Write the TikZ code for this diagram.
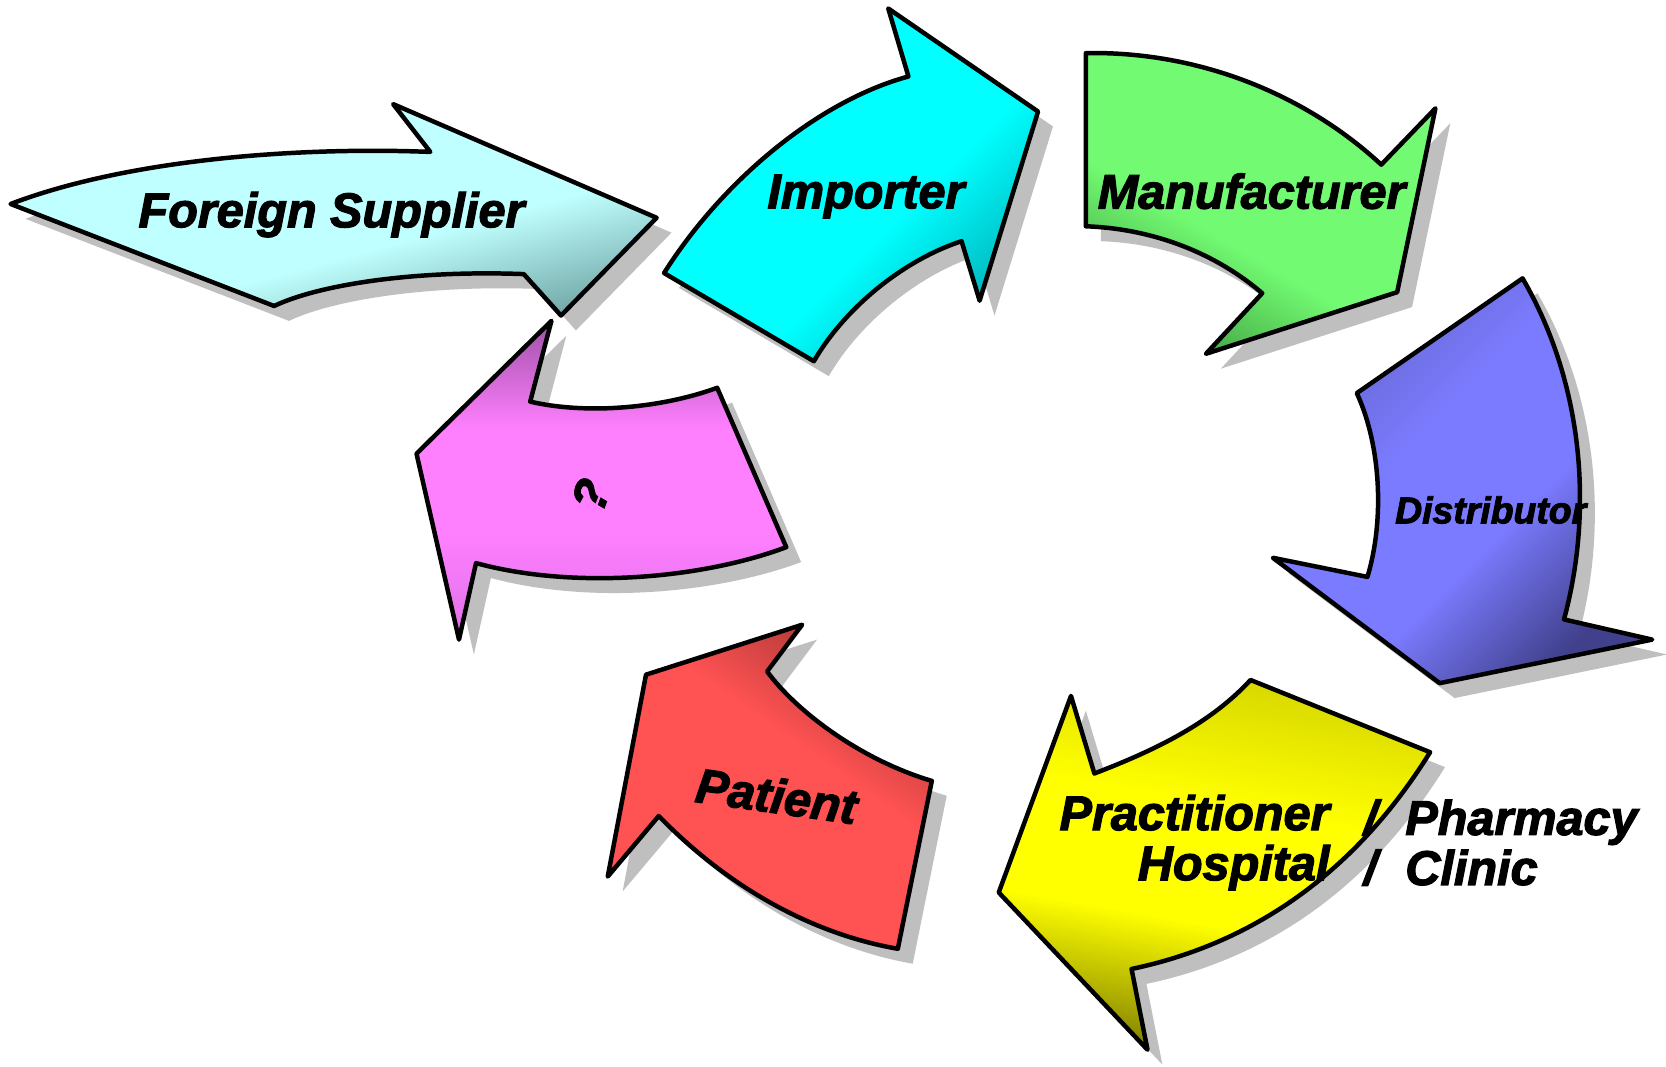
\documentclass[tikz,border=0pt]{standalone}
\usepackage{fontspec}
\newfontfamily\stepfont{Liberation Sans}[BoldItalicFeatures={FakeBold=2.5}]
\usepackage{tikz}
\usetikzlibrary{shadows}

\definecolor{supplierlight}{HTML}{C0FFFF}
\definecolor{supplierdark}{HTML}{78AEAE}
\definecolor{importerlight}{HTML}{00FFFF}
\definecolor{importerdark}{HTML}{00B4BC}
\definecolor{makerlight}{HTML}{72FA72}
\definecolor{makerdark}{HTML}{45A845}
\definecolor{distlight}{HTML}{7B7BFF}
\definecolor{disttop}{HTML}{6464CC}
\definecolor{distdark}{HTML}{40408C}
\definecolor{carelight}{HTML}{FFFF00}
\definecolor{caretop}{HTML}{D8D800}
\definecolor{caredark}{HTML}{858500}
\definecolor{patientlight}{HTML}{FF5252}
\definecolor{patientdark}{HTML}{B03838}
\definecolor{unknownlight}{HTML}{FF80FF}
\definecolor{unknowndark}{HTML}{A050A8}
\definecolor{unknownbot}{HTML}{E070E8}

% light plateau in the middle, darker only near the two ends
\pgfdeclareverticalshading[fadetop,fademid,fadebot]{stepfade}{100bp}{%
  color(0bp)=(fadebot); color(25bp)=(fadebot); color(42bp)=(fademid);
  color(58bp)=(fademid); color(75bp)=(fadetop); color(100bp)=(fadetop)}

\tikzset{
  flowarrow/.style={draw=black, line width=1.2pt, line join=round, shade,
    drop shadow={shadow xshift=1.4mm, shadow yshift=-1.4mm, fill=black!25, opacity=1}},
  fade/.style n args={3}{/utils/exec={\colorlet{fadetop}{#1}\colorlet{fademid}{#2}%
    \colorlet{fadebot}{#3}}, shading=stepfade},
  steptext/.style={font=\stepfont\bfseries\itshape\fontsize{13}{13.4}\selectfont, inner sep=0pt},
}

\begin{document}
\begin{tikzpicture}[x=0.01cm, y=-0.01cm]
  \path[fill=white] (0,0) rectangle (1568,1004);
  % ---- foreign supplier ----
  \path[flowarrow, fade={supplierlight}{supplierlight}{supplierdark}, shading angle=15]
    (10,192) .. controls (120,150) and (280,138) .. (405,143)
    -- (370,98) -- (618,205) -- (528,297) -- (493,258)
    .. controls (390,254) and (300,268) .. (258,288) -- cycle;
  % ---- importer ----
  \path[flowarrow, fade={importerlight}{importerlight}{importerdark}, shading angle=45]
    (625,257) .. controls (680,170) and (770,95) .. (855,72)
    -- (836,8) -- (977,105) -- (922,283) -- (905,227)
    .. controls (850,245) and (795,290) .. (766,340) -- cycle;
  % ---- manufacturer ----
  \path[flowarrow, fade={makerlight}{makerlight}{makerdark}, shading angle=-30]
    (1022,50) .. controls (1130,48) and (1230,90) .. (1300,155)
    -- (1351,102) -- (1315,275) -- (1135,333) -- (1188,276)
    .. controls (1140,235) and (1080,215) .. (1022,213) -- cycle;
  % ---- distributor ----
  \path[flowarrow, fade={disttop}{distlight}{distdark}, shading angle=45]
    (1433,262) -- (1277,370) .. controls (1300,420) and (1303,490) .. (1287,543)
    -- (1198,525) -- (1355,643) -- (1555,602) -- (1472,583)
    .. controls (1500,480) and (1490,360) .. (1433,262) -- cycle;
  % ---- practitioner / pharmacy ----
  \path[flowarrow, fade={caretop}{carelight}{caredark}, shading angle=-10]
    (1177,640) -- (1346,708) .. controls (1270,830) and (1170,890) .. (1065,912)
    -- (1080,988) -- (940,840) -- (1008,655) -- (1030,728)
    .. controls (1090,705) and (1140,680) .. (1177,640) -- cycle;
  % ---- patient ----
  \path[flowarrow, fade={patientdark}{patientlight}{patientlight}, shading angle=-35]
    (755,588) -- (608,635) -- (572,825) -- (620,768)
    .. controls (690,840) and (770,880) .. (845,893)
    -- (877,735) .. controls (810,715) and (750,670) .. (722,632) -- cycle;
  % ---- unknown step ----
  \path[flowarrow, fade={unknowndark}{unknownlight}{unknownbot}, shading angle=0]
    (519,302) -- (392,427) -- (432,602) -- (448,530)
    .. controls (540,555) and (660,545) .. (740,515)
    -- (675,365) .. controls (620,385) and (550,390) .. (499,378) -- cycle;

  % ---- labels ----
  \node[steptext] (supplier) at (312,202) {Foreign Supplier};
  \node[steptext] (importer) at (815,185) {Importer};
  \node[steptext] (maker) at (1178,180) {Manufacturer};
  \node[steptext, font=\stepfont\bfseries\itshape\fontsize{10}{12}\selectfont]
    (distributor) at (1403,480) {Distributor};
  \node[steptext, align=right, anchor=east] (careleft) at (1252,793) {Practitioner\\Hospital};
  \node[steptext, align=center] (careslash) at (1290,793) {/\\/};
  \node[steptext, align=left, anchor=west] (careright) at (1322,793) {Pharmacy\\Clinic};
  \node[steptext, rotate=-8] (patient) at (731,749) {Patient};
  \node[steptext, rotate=70] (unknown) at (556,466) {?};
\end{tikzpicture}
\end{document}
